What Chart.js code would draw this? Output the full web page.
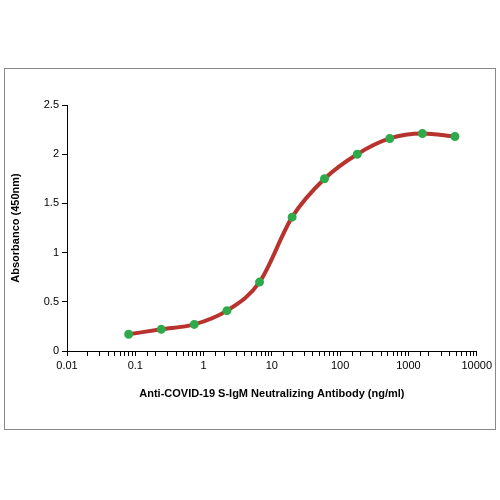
<!DOCTYPE html>
<html>
<head>
<meta charset="utf-8">
<script src="https://cdn.jsdelivr.net/npm/chart.js@4/dist/chart.umd.min.js"></script>
<style>
  body { margin: 0; background: #fff; }
  #box { position: absolute; left: 4px; top: 68px; width: 490px; height: 360px; border: 1px solid #888; }
</style>
</head>
<body>
<div id="box"><canvas id="c" width="490" height="360"></canvas></div>
<script>
// concentrations (ng/ml) and absorbance
const concentrations = [0.08, 0.24, 0.73, 2.2, 6.6, 19.8, 59, 178, 533, 1600, 4800]
const absorbance = [0.17, 0.22, 0.27, 0.41, 0.70, 1.36, 1.75, 2.00, 2.16, 2.21, 2.18]
const yTicks = [0, 0.5, 1, 1.5, 2, 2.5]

const points = concentrations.map((x, i) => ({ x: x, y: absorbance[i] }))
const font = { family: 'Arial, "Liberation Sans", sans-serif', size: 11 }

new Chart(document.getElementById('c'), {
    type: 'line',
    data: {
        datasets: [{
            data: points,
            borderColor: '#b8322e',
            borderWidth: 4,
            cubicInterpolationMode: 'monotone',
            pointBackgroundColor: '#2eaa4a',
            pointBorderColor: '#2eaa4a',
            pointRadius: 2.5
        }]
    },
    options: {
        responsive: false,
        animation: false,
        layout: { padding: { top: 36, right: 18, bottom: 24 } },
        plugins: { legend: { display: false }, tooltip: { enabled: false } },
        scales: {
            x: {
                type: 'logarithmic',
                min: 0.01, max: 10000,
                border: { color: '#000' },
                grid: { drawOnChartArea: false, color: '#000', tickLength: 5 },
                ticks: {
                    color: '#000', font: font, autoSkip: false, maxRotation: 0,
                    callback: v => {
                        const l = Math.log10(v)
                        return Math.abs(l - Math.round(l)) < 1e-9 ? String(v) : ''
                    }
                },
                title: { display: true, text: 'Anti-COVID-19 S-IgM Neutralizing Antibody (ng/ml)', color: '#000', font: { ...font, weight: 'bold' } },
                afterFit: s => { s.height = 54 }
            },
            y: {
                min: 0, max: 2.5,
                border: { color: '#000' },
                grid: { drawOnChartArea: false, color: '#000', tickLength: 5 },
                afterBuildTicks: s => { s.ticks = yTicks.map(v => ({ value: v })) },
                ticks: { color: '#000', font: font, callback: v => String(v) },
                title: { display: true, text: 'Absorbanco (450nm)', color: '#000', font: { ...font, weight: 'bold' } },
                afterFit: s => { s.width = 62 }
            }
        }
    }
})
</script>
</body>
</html>
